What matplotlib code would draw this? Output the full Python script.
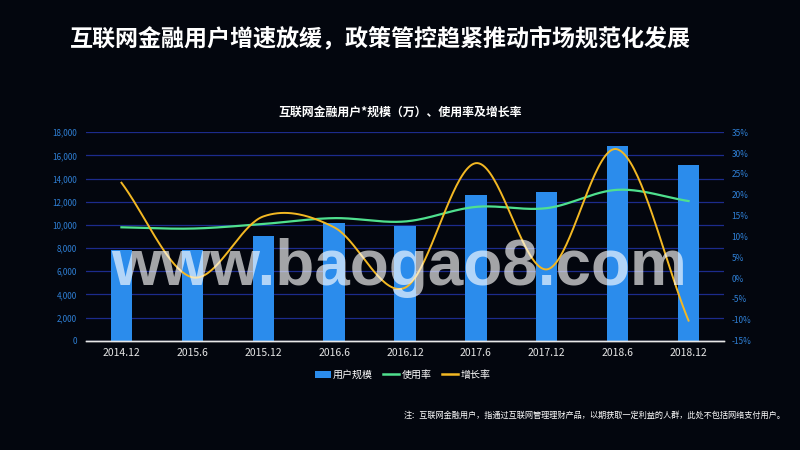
"""Internet finance users: bar + smoothed lines on a dark background."""

import matplotlib
matplotlib.use("Agg")
import matplotlib.pyplot as plt
import numpy as np
from matplotlib.lines import Line2D
from matplotlib.patches import Patch

plt.rcParams["font.family"] = ["Noto Sans CJK SC", "DejaVu Sans"]

periods = ["2014.12", "2015.6", "2015.12", "2016.6", "2016.12",
           "2017.6", "2017.12", "2018.6", "2018.12"]
users = [7849, 7865, 9026, 10124, 9890, 12615, 12881, 16855, 15138]
usage_rate = [12.2, 11.9, 13.0, 14.4, 13.6, 17.1, 16.8, 21.2, 18.5]
growth_rate = [22.9, 0.2, 14.8, 12.2, -2.3, 27.6, 2.1, 30.9, -10.2]

BG = "#03060e"
BAR = "#2b8cec"
GREEN = "#4fe08e"
YELLOW = "#f3b823"
GRID = "#1c2b8c"
TICK = "#2f80d6"


def smooth(y, n=40):
    """Catmull-Rom curve through the points (drawing only)."""
    y = np.asarray(y, dtype=float)
    x = np.arange(len(y), dtype=float)
    pad = np.concatenate([[2 * y[0] - y[1]], y, [2 * y[-1] - y[-2]]])
    xs, ys = [], []
    for i in range(len(y) - 1):
        p0, p1, p2, p3 = pad[i], pad[i + 1], pad[i + 2], pad[i + 3]
        m1, m2 = (p2 - p0) / 2, (p3 - p1) / 2
        t = np.linspace(0, 1, n, endpoint=(i == len(y) - 2))
        h00 = 2 * t**3 - 3 * t**2 + 1
        h10 = t**3 - 2 * t**2 + t
        h01 = -2 * t**3 + 3 * t**2
        h11 = t**3 - t**2
        xs.append(x[i] + t)
        ys.append(h00 * p1 + h10 * m1 + h01 * p2 + h11 * m2)
    return np.concatenate(xs), np.concatenate(ys)


fig = plt.figure(figsize=(8, 4.5), dpi=100, facecolor=BG)
ax = fig.add_axes([0.1075, 0.243, 0.7975, 0.463], facecolor=BG)
ax2 = ax.twinx()

x = np.arange(len(periods))
ax.bar(x, users, width=0.3, color=BAR, zorder=2)
ax.set_xlim(-0.5, len(periods) - 0.5)
ax.set_ylim(0, 18000)
ax.set_yticks(np.arange(0, 18001, 2000))
ax.set_yticklabels([f"{v:,}" for v in range(0, 18001, 2000)])
ax.grid(axis="y", color=GRID, linewidth=0.9, zorder=0)
ax.set_axisbelow(True)
ax.set_xticks(x)
ax.set_xticklabels(periods)

ax2.set_ylim(-15, 35)
ax2.set_yticks(np.arange(-15, 36, 5))
ax2.set_yticklabels([f"{v}%" for v in range(-15, 36, 5)])

gx, gy = smooth(usage_rate)
ax2.plot(gx, gy, color=GREEN, linewidth=1.6, zorder=3)
yx, yy = smooth(growth_rate)
ax2.plot(yx, yy, color=YELLOW, linewidth=1.4, zorder=4)

for a in (ax, ax2):
    for side in ("top", "left", "right"):
        a.spines[side].set_visible(False)
    a.spines["bottom"].set_color("#e8e8e8")
    a.spines["bottom"].set_linewidth(1.0)
ax.tick_params(axis="y", length=0, labelsize=5.8, labelcolor=TICK, pad=6.5)
ax2.tick_params(axis="y", length=0, labelsize=6, labelcolor=TICK, pad=5.5)
ax.tick_params(axis="x", length=0, labelsize=7.5, labelcolor="#e6e6e6", pad=5)

fig.text(0.0875, 0.914, "互联网金融用户增速放缓，政策管控趋紧推动市场规范化发展",
         color="white", fontsize=16.6, fontweight="bold", va="center", ha="left")
fig.text(0.5, 0.751, "互联网金融用户*规模（万）、使用率及增长率",
         color="white", fontsize=8.6, fontweight="bold", va="center", ha="center")

handles = [Patch(facecolor=BAR), Line2D([], [], color=GREEN, linewidth=1.8),
           Line2D([], [], color=YELLOW, linewidth=1.8)]
fig.legend(handles, ["用户规模", "使用率", "增长率"], loc="center",
           bbox_to_anchor=(0.503, 0.167), ncol=3, frameon=False,
           fontsize=7.2, labelcolor="white", handlelength=1.6,
           handleheight=0.7, handletextpad=0.25, columnspacing=1.0)

fig.text(0.982, 0.078,
         "注：互联网金融用户，指通过互联网管理理财产品，以期获取一定利益的人群，此处不包括网络支付用户。",
         color="white", fontsize=5.9, ha="right", va="center")

# site watermark across the plot
fig.text(0.4985, 0.405, "www.baogao8.com", family="Liberation Sans",
         fontweight="bold", fontsize=46, color="white", alpha=0.64,
         ha="center", va="center", zorder=10)

fig.savefig("out.png", dpi=100, facecolor=BG)
plt.close(fig)
